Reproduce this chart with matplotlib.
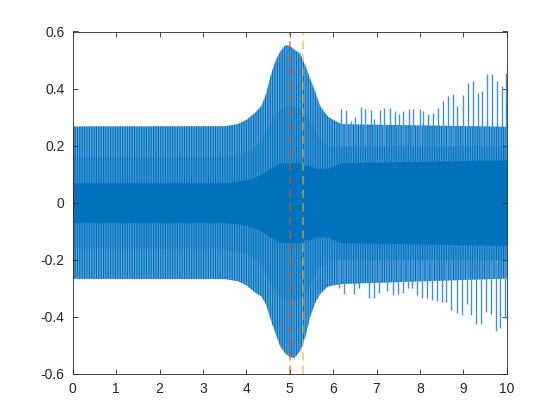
import matplotlib
matplotlib.use("Agg")
import matplotlib.pyplot as plt

plt.rcParams['font.family'] = ['Liberation Sans', 'DejaVu Sans']
plt.rcParams['axes.unicode_minus'] = False
plt.rcParams['hatch.linewidth'] = 0.8

# envelope of the signal
t_env = [0, 3.5, 3.8, 4.0, 4.2, 4.35, 4.45, 4.55, 4.67, 4.78, 4.9, 5.0, 5.1,
         5.24, 5.36, 5.47, 5.59, 5.7, 5.87, 6.0, 6.2, 10]
env_hi = [0.267, 0.268, 0.275, 0.29, 0.315, 0.34, 0.38, 0.44, 0.497, 0.53,
          0.552, 0.55, 0.537, 0.522, 0.48, 0.434, 0.387, 0.338, 0.303, 0.29,
          0.275, 0.266]
env_lo = [-0.267, -0.268, -0.275, -0.29, -0.315, -0.33, -0.356, -0.405,
          -0.458, -0.504, -0.53, -0.54, -0.545, -0.52, -0.47, -0.40, -0.35,
          -0.32, -0.295, -0.29, -0.285, -0.266]
# dark inner band (half width)
core = [0.07, 0.07, 0.075, 0.08, 0.09, 0.1, 0.11, 0.12, 0.13, 0.14, 0.14,
        0.14, 0.14, 0.14, 0.13, 0.13, 0.12, 0.12, 0.12, 0.13, 0.14, 0.15]
mid = [0.16, 0.16, 0.17, 0.18, 0.2, 0.22, 0.25, 0.28, 0.31, 0.33, 0.34,
       0.34, 0.34, 0.33, 0.31, 0.28, 0.25, 0.22, 0.2, 0.2, 0.2, 0.2]

# single spikes poking out of the band after t = 6
spike_up_t = [6.17, 6.30, 6.40, 6.50, 6.63, 6.73, 6.86, 6.95, 7.07, 7.17,
              7.30, 7.42, 7.51, 7.61, 7.74, 7.85, 7.99, 8.08, 8.19, 8.30,
              8.41, 8.54, 8.65, 8.77, 8.86, 8.98, 9.10, 9.22, 9.34, 9.42,
              9.54, 9.66, 9.78, 9.88, 9.98]
spike_up = [0.33, 0.324, 0.286, 0.30, 0.334, 0.33, 0.325, 0.295, 0.324,
            0.333, 0.333, 0.32, 0.31, 0.32, 0.327, 0.327, 0.327, 0.32, 0.31,
            0.316, 0.333, 0.355, 0.375, 0.38, 0.34, 0.377, 0.42, 0.428,
            0.386, 0.39, 0.451, 0.451, 0.425, 0.41, 0.455]
spike_dn_t = [6.13, 6.24, 6.36, 6.48, 6.60, 6.83, 6.94, 7.05, 7.24, 7.37,
              7.49, 7.61, 7.72, 7.82, 7.94, 8.05, 8.17, 8.28, 8.40, 8.50,
              8.61, 8.72, 8.85, 8.96, 9.08, 9.18, 9.30, 9.41, 9.53, 9.63,
              9.74, 9.85, 9.96]
spike_dn = [-0.30, -0.32, -0.275, -0.32, -0.30, -0.333, -0.333, -0.316,
            -0.31, -0.324, -0.32, -0.316, -0.30, -0.30, -0.324, -0.333,
            -0.333, -0.34, -0.345, -0.35, -0.35, -0.375, -0.386, -0.395,
            -0.355, -0.395, -0.425, -0.425, -0.383, -0.392, -0.449, -0.44,
            -0.404]

marks = [5.0, 5.3]

blue = '#0072BD'
fig = plt.figure(figsize=(5.6, 4.2), dpi=100)
ax = fig.add_axes([0.13, 0.11, 0.775, 0.815])

ax.fill_between(t_env, env_lo, env_hi, facecolor='#5ba3da', edgecolor=blue,
                hatch='|' * 7, linewidth=0)
ax.fill_between(t_env, [-m for m in mid], mid, color=blue, alpha=0.25,
                linewidth=0)
ax.fill_between(t_env, [-c for c in core], core, color=blue, linewidth=0)
ax.vlines(spike_up_t, 0.2, spike_up, color='#3f93d4', linewidth=1.0)
ax.vlines(spike_dn_t, spike_dn, -0.2, color='#3f93d4', linewidth=1.0)

ax.axvline(marks[0], color='#D95319', alpha=0.55, linestyle='--',
           dashes=(4, 2.5), linewidth=1.5)
ax.axvline(marks[1], color='#EDB120', alpha=0.55, linestyle='--',
           dashes=(4, 2.5), linewidth=1.5)

ax.set_xlim(0, 10)
ax.set_ylim(-0.6, 0.6)
ax.set_xticks(range(0, 11))
ax.set_yticks([-0.6, -0.4, -0.2, 0, 0.2, 0.4, 0.6])
ax.set_yticklabels(['-0.6', '-0.4', '-0.2', '0', '0.2', '0.4', '0.6'])
ax.tick_params(direction='in', top=True, right=True, length=3.5, width=0.6,
               color='#262626', labelcolor='#262626', labelsize=10, pad=6)
for s in ax.spines.values():
    s.set_color('#262626')
    s.set_linewidth(0.6)

fig.savefig('out.png', dpi=100)
